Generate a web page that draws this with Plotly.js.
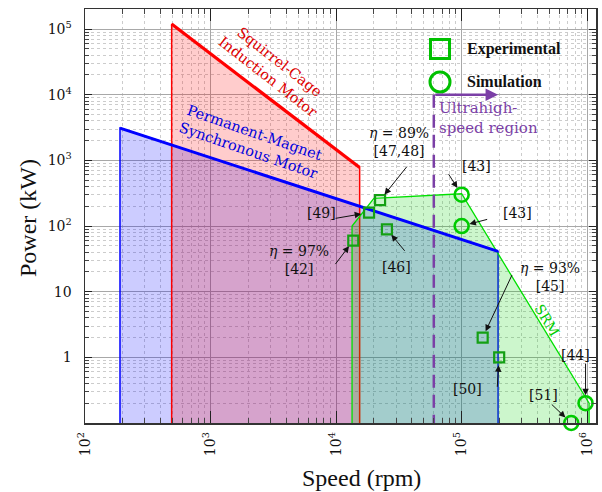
<!DOCTYPE html>
<html>
<head>
<meta charset="utf-8">
<script src="https://cdn.plot.ly/plotly-3.0.1.min.js"></script>
<style>html,body{margin:0;padding:0;background:#fff;}#chart{width:602px;height:492px;}</style>
</head>
<body>
<div id="chart"></div>
<script>
// ---- data (speed in rpm, power in kW) ----
const pmsmSpeed = [190, 190, 195000, 195000];
const pmsmPower = [0.1, 3100, 41, 0.1];
const scimSpeed = [490, 490, 15400, 15400];
const scimPower = [0.1, 119000, 780, 0.1];
const srmSpeed = [13400, 13400, 20000, 100000, 1035000, 1035000];
const srmPower = [0.1, 100, 263, 310, 0.2, 0.1];
const expSpeed = [13700, 18300, 22400, 25400, 147000, 199000];
const expPower = [60, 160, 248, 89, 2.0, 1.0];
const expRefs = ['[42]', '[49]', '[47,48]', '[46]', '[45]', '[50]'];
const simSpeed = [100000, 100000, 970000, 746000];
const simPower = [300, 100, 0.2, 0.1];
const simRefs = ['[43]', '[43]', '[44]', '[51]'];
const ultraSpeed = 60000;       // start of ultrahigh-speed region
const ultraArrowEnd = 195000;
const ultraLevel = 10000;
const xTickVals = [1e2, 1e3, 1e4, 1e5, 1e6];
const xTickText = ['10<sup>2</sup>', '10<sup>3</sup>', '10<sup>4</sup>', '10<sup>5</sup>', '10<sup>6</sup>'];
const yTickVals = [1, 10, 100, 1000, 10000, 100000];
const yTickText = ['1', '10', '10<sup>2</sup>', '10<sup>3</sup>', '10<sup>4</sup>', '10<sup>5</sup>'];

// ---- styling ----
const RED = '#ff0000', BLUE = '#0000ff', GREEN = '#00e000', PURPLE = '#7b3fa6';
const SQ = '#14a014', CIR = '#00cc00';
const SERIF = 'DejaVu Serif, serif';
const TIMES = 'Liberation Serif, Times New Roman, serif';

function minorVals(lo, hi) {
  const v = [];
  for (let p = lo; p <= hi; p++) for (let k = 2; k <= 9; k++) v.push(k * Math.pow(10, p));
  return v;
}
// pixel -> paper helpers (plot area 85..596 x 9..423)
const PX = p => (p - 85) / 511;
const PY = p => (423 - p) / 414;

const traces = [
  {x: pmsmSpeed, y: pmsmPower, mode: 'lines', fill: 'toself', fillcolor: 'rgba(0,0,255,0.2)',
   line: {color: BLUE, width: 1.5}, hoverinfo: 'skip'},
  {x: scimSpeed, y: scimPower, mode: 'lines', fill: 'toself', fillcolor: 'rgba(255,0,0,0.2)',
   line: {color: RED, width: 1.5}, hoverinfo: 'skip'},
  {x: srmSpeed, y: srmPower, mode: 'lines', fill: 'toself', fillcolor: 'rgba(0,210,0,0.2)',
   line: {color: GREEN, width: 1.3}, hoverinfo: 'skip'},
  {x: pmsmSpeed.slice(1, 3), y: pmsmPower.slice(1, 3), mode: 'lines', line: {color: BLUE, width: 3}},
  {x: scimSpeed.slice(1, 3), y: scimPower.slice(1, 3), mode: 'lines', line: {color: RED, width: 3.2}},
  {x: [ultraSpeed, ultraSpeed], y: [ultraLevel, 0.1], mode: 'lines',
   line: {color: PURPLE, width: 2.5, dash: '13px,7px'}},
  {x: expSpeed, y: expPower, mode: 'markers', cliponaxis: false, text: expRefs,
   marker: {symbol: 'square-open', size: 10, color: SQ, line: {width: 2.2, color: SQ}}},
  {x: simSpeed, y: simPower, mode: 'markers', cliponaxis: false, text: simRefs,
   marker: {symbol: 'circle-open', size: 14, color: CIR, line: {width: 2.6, color: CIR}}}
];

const annotations = [];
function label(t, x, y, opts) {
  opts = opts || {};
  annotations.push(Object.assign({
    text: t, xref: 'paper', yref: 'paper', x: PX(x), y: PY(y), showarrow: false,
    xanchor: 'center', yanchor: 'middle', font: {family: SERIF, size: 14, color: '#111'}
  }, opts));
}
label('Squirrel-Cage<br>Induction Motor', 274, 69, {textangle: 38, font: {family: SERIF, size: 14.5, color: '#dd0000'}});
label('Permanent-Magnet<br>Synchronous Motor', 251, 141, {textangle: 19, font: {family: SERIF, size: 14.5, color: '#0000dd'}});
label('<i>η</i> = 89%<br>[47,48]', 399, 142);
label('[43]', 476, 166);
label('[43]', 517, 213);
label('[49]', 321, 213);
label('<i>η</i> = 97%<br>[42]', 299, 260);
label('[46]', 396, 267);
label('<i>η</i> = 93%<br>[45]', 550, 277);
label('SRM', 547, 320, {textangle: 59, font: {family: SERIF, size: 14, color: '#00cc00'}});
label('[50]', 467, 389);
label('[44]', 575, 355);
label('[51]', 543, 395);
label('Ultrahigh-<br>speed region', 437, 118, {xanchor: 'left', align: 'left', font: {family: SERIF, size: 15, color: PURPLE}});
label('<b>Experimental</b>', 465, 49, {xanchor: 'left', font: {family: TIMES, size: 16, color: '#111'}});
label('<b>Simulation</b>', 465, 81, {xanchor: 'left', font: {family: TIMES, size: 16, color: '#111'}});
// axis titles
annotations.push({text: 'Speed (rpm)', xref: 'paper', yref: 'paper', x: PX(361), y: PY(478), showarrow: false,
  xanchor: 'center', yanchor: 'middle', font: {family: TIMES, size: 24, color: '#111'}});
annotations.push({text: 'Power (kW)', xref: 'paper', yref: 'paper', x: PX(28), y: PY(218), showarrow: false,
  textangle: -90, xanchor: 'center', yanchor: 'middle', font: {family: TIMES, size: 24, color: '#111'}});

// pointer arrows: [series, index, tail dx, tail dy]
function pointer(xs, ys, i, ax, ay, so) {
  annotations.push({x: Math.log10(xs[i]), y: Math.log10(ys[i]), xref: 'x', yref: 'y', text: '',
    showarrow: true, ax: ax, ay: ay, arrowhead: 2, arrowsize: 1.3, arrowwidth: 1, arrowcolor: '#111', standoff: so});
}
pointer(expSpeed, expPower, 2, 28, -35, 7);
pointer(simSpeed, simPower, 0, -14, -22, 8);
pointer(simSpeed, simPower, 1, 27, -7, 8);
pointer(expSpeed, expPower, 1, -35, 6, 8);
pointer(expSpeed, expPower, 0, -19, 25, 7);
pointer(expSpeed, expPower, 3, 19, 23, 7);
pointer(expSpeed, expPower, 4, 30, -64, 7);
pointer(expSpeed, expPower, 5, -2, 31, 8);
pointer(simSpeed, simPower, 2, 0, -41, 8);
pointer(simSpeed, simPower, 3, -21, -20, 8);
// ultrahigh-speed arrow
annotations.push({x: Math.log10(ultraArrowEnd), y: Math.log10(ultraLevel), xref: 'x', yref: 'y',
  ax: Math.log10(ultraSpeed), ay: Math.log10(ultraLevel), axref: 'x', ayref: 'y', text: '',
  showarrow: true, arrowhead: 2, arrowsize: 1, arrowwidth: 2.5, arrowcolor: PURPLE, standoff: 0});

const shapes = [
  {type: 'rect', xref: 'paper', yref: 'paper', xsizemode: 'pixel', ysizemode: 'pixel',
   xanchor: PX(440), yanchor: PY(49), x0: -9.5, x1: 9.5, y0: -9.5, y1: 9.5,
   line: {color: '#00c000', width: 3}},
  {type: 'circle', xref: 'paper', yref: 'paper', xsizemode: 'pixel', ysizemode: 'pixel',
   xanchor: PX(440), yanchor: PY(82), x0: -10, x1: 10, y0: -10, y1: 10,
   line: {color: '#00c000', width: 3}}
];

const axisCommon = {
  type: 'log', tickmode: 'array', ticks: 'inside', tickcolor: '#222',
  showline: true, linecolor: '#333', linewidth: 1.5, mirror: 'allticks',
  showgrid: true, gridcolor: '#a8a8a8', gridwidth: 1, zeroline: false,
  tickfont: {family: SERIF, size: 14, color: '#111'}
};

const layout = {
  width: 602, height: 492,
  margin: {l: 85, r: 6, t: 9, b: 69, pad: 0},
  paper_bgcolor: '#fff', plot_bgcolor: '#fff',
  showlegend: false,
  xaxis: Object.assign({}, axisCommon, {
    range: [2, 6.07], tickvals: xTickVals, ticktext: xTickText, tickangle: -90, ticklen: 12,
    ticklabelstandoff: 2,
    minor: {tickvals: minorVals(2, 6), ticks: 'inside', ticklen: 5, tickcolor: '#444',
            showgrid: true, gridcolor: '#cccccc', griddash: 'dot', gridwidth: 1}
  }),
  yaxis: Object.assign({}, axisCommon, {
    range: [-1, 5.305], tickvals: yTickVals, ticktext: yTickText, ticklen: 7,
    ticklabelstandoff: 9,
    minor: {tickvals: minorVals(-1, 5), ticks: 'inside', ticklen: 4, tickcolor: '#444',
            showgrid: true, gridcolor: '#cccccc', griddash: 'dot', gridwidth: 1}
  }),
  annotations: annotations,
  shapes: shapes
};

Plotly.newPlot('chart', traces, layout, {staticPlot: true, displayModeBar: false});
</script>
</body>
</html>
